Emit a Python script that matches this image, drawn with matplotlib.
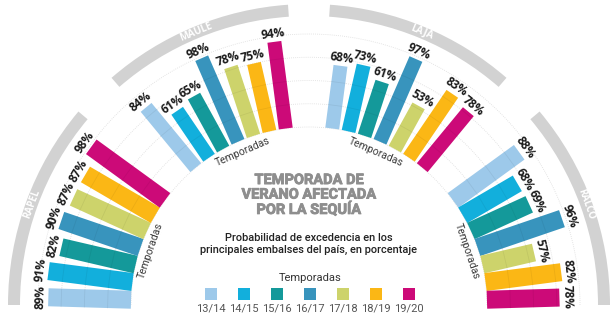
import numpy as np
import matplotlib
matplotlib.use('Agg')
import matplotlib.pyplot as plt
from matplotlib.patches import Rectangle, Wedge, Arc
from matplotlib.transforms import Affine2D
import matplotlib.patheffects as pe

# ---------------- data ----------------
seasons = ['13/14', '14/15', '15/16', '16/17', '17/18', '18/19', '19/20']
reservoirs = ['RAPEL', 'MAULE', 'LAJA', 'RALCO']
rapel = [89, 91, 82, 90, 87, 87, 98]
maule = [84, 61, 65, 98, 78, 75, 94]
laja = [68, 73, 61, 97, 53, 83, 78]
ralco = [88, 68, 69, 96, 57, 82, 78]
values = [rapel, maule, laja, ralco]

title = 'TEMPORADA DE\nVERANO AFECTADA\nPOR LA SEQUÍA'
subtitle = 'Probabilidad de excedencia en los\nprincipales embalses del país, en porcentaje'
legend_title = 'Temporadas'

# ---------------- style / layout ----------------
colors = ['#9dc9ea', '#12afdc', '#14999a', '#3894bd', '#cdd36b', '#fbb715', '#cc0a78']
group_angles = [(178.3, 144.0), (129.5, 97.5), (82.5, 50.5), (36.0, 1.7)]
bar_w = [18, 14, 14, 18]
arc_span = [(140, 180), (94, 131), (49, 86), (0, 40)]
R0 = 178
SCALE = 0.93
ARC_R = 301
ARC_T = 12

plt.rcParams['font.family'] = ['Open Sans', 'DejaVu Sans']

fig = plt.figure(figsize=(6.10, 3.23), dpi=100)
ax = fig.add_axes([0, 0, 1, 1])
ax.set_xlim(-309, 301)
ax.set_ylim(-18, 305)
ax.set_aspect('equal')
ax.axis('off')

# faint dotted grid arcs
for k in range(0, 5):
    r = R0 + SCALE * 25 * k
    ax.add_patch(Arc((0, 0), 2 * r, 2 * r, theta1=0, theta2=180,
                     color='#dcdcdc', lw=0.6, ls=(0, (1, 1.5)), zorder=1))

for g, (name, vals) in enumerate(zip(reservoirs, values)):
    a0, a1 = group_angles[g]
    angs = np.linspace(a0, a1, len(vals))
    w = bar_w[g]
    for ang, v, c in zip(angs, vals, colors):
        L = v * SCALE
        tr = Affine2D().rotate_deg(ang) + ax.transData
        ax.add_patch(Rectangle((R0, -w / 2), L, w, facecolor=c,
                               edgecolor='none', transform=tr, zorder=2))
        # faint segment lines inside bars
        for k in range(1, 4):
            rr = R0 + SCALE * 25 * k
            if rr < R0 + L:
                ax.plot([rr, rr], [-w / 2, w / 2], color='black', alpha=0.06,
                        lw=0.6, transform=tr, zorder=3)
        rl = R0 + L + 1.5
        th = np.deg2rad(ang)
        ax.text(rl * np.cos(th), rl * np.sin(th), f'{v}%', rotation=ang - 90,
                rotation_mode='anchor', ha='center', va='bottom',
                fontsize=8.5, fontweight='bold', color='#1a1a1a', zorder=4)
    # "Temporadas" along inner side
    mid = np.deg2rad((a0 + a1) / 2)
    rt = R0 - 11
    ax.text(rt * np.cos(mid), rt * np.sin(mid), legend_title,
            rotation=np.rad2deg(mid) - 90, rotation_mode='anchor',
            ha='center', va='center', fontsize=7.5, color='#3a3a3a', zorder=4,
            family=['Roboto', 'DejaVu Sans'])
    # gray arc band with reservoir name
    s0, s1 = arc_span[g]
    ax.add_patch(Wedge((0, 0), ARC_R, s0, s1, width=ARC_T,
                       facecolor='#d2d2d2', edgecolor='none', zorder=1))
    amid = np.deg2rad((s0 + s1) / 2)
    ra = ARC_R - ARC_T / 2
    ax.text(ra * np.cos(amid), ra * np.sin(amid), name,
            rotation=np.rad2deg(amid) - 90, rotation_mode='anchor',
            ha='center', va='center', fontsize=7, fontweight='bold',
            color='white', zorder=4)

# center texts
ax.text(0, 110, title, ha='center', va='center', fontsize=10.5,
        fontweight='bold', color='#8e8e8e', linespacing=1.05,
        family=['Roboto', 'DejaVu Sans'],
        path_effects=[pe.withStroke(linewidth=0.6, foreground='#8e8e8e')])
ax.text(0, 61, subtitle, ha='center', va='center', fontsize=7.9,
        fontweight='medium', color='#222222', linespacing=1.15,
        family=['Roboto', 'DejaVu Sans'])

# legend
ax.text(1, 27, legend_title, ha='center', va='center', fontsize=8,
        color='#333333', family=['Roboto', 'DejaVu Sans'])
lx = np.linspace(-98, 100, len(seasons))
for x, s, c in zip(lx, seasons, colors):
    ax.add_patch(Rectangle((x - 6, 5), 12, 12, facecolor=c, edgecolor='none'))
    ax.text(x, -3.5, s, ha='center', va='center', fontsize=8,
            color='#555555', family=['Roboto', 'DejaVu Sans'])

fig.savefig('out.png', dpi=100)
